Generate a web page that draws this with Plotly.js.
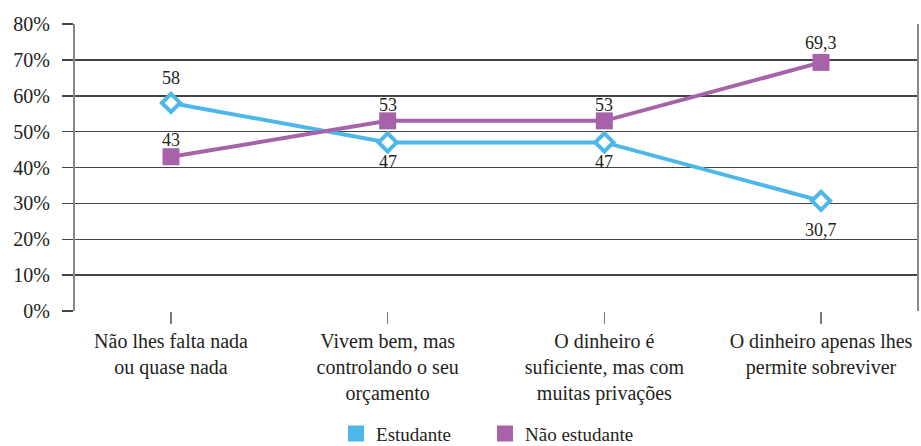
<!DOCTYPE html>
<html>
<head>
<meta charset="utf-8">
<script src="https://cdn.plot.ly/plotly-3.0.1.min.js"></script>
<style>
html,body{margin:0;padding:0;background:#fff;}
#chart{width:921px;height:446px;}
</style>
</head>
<body>
<div id="chart"></div>
<script>
const categories = [
  "Não lhes falta nada<br>ou quase nada",
  "Vivem bem, mas<br>controlando o seu<br>orçamento",
  "O dinheiro é<br>suficiente, mas com<br>muitas privações",
  "O dinheiro apenas lhes<br>permite sobreviver"
];
const estudante = [58, 47, 47, 30.7];
const naoEstudante = [43, 53, 53, 69.3];
const seriesNames = ["Estudante", "Não estudante"];
const yTickVals = [0, 10, 20, 30, 40, 50, 60, 70, 80];
const yTickText = ["0%", "10%", "20%", "30%", "40%", "50%", "60%", "70%", "80%"];

// label offsets (px) – styling only
const estOffsets = [25, -20, -20, -29];
const naoOffsets = [17, 16, 16, 19];

const SERIF = "'Liberation Serif', 'DejaVu Serif', serif";
const blue = "#4DB8E8";
const purple = "#A763A9";
const textColor = "#231F20";
const xIdx = categories.map((_, i) => i);
const fmt = v => String(v).replace(".", ",");

const traces = [
  {
    x: xIdx, y: estudante, mode: "lines+markers", showlegend: false,
    line: {color: blue, width: 4},
    marker: {symbol: "diamond", size: 14, color: "#ffffff", line: {color: blue, width: 4}},
    hoverinfo: "skip"
  },
  {
    x: xIdx, y: naoEstudante, mode: "lines+markers", showlegend: false,
    line: {color: purple, width: 4},
    marker: {symbol: "square", size: 17, color: purple, line: {width: 0}},
    hoverinfo: "skip"
  },
  {
    x: [null], y: [null], mode: "markers", name: seriesNames[0],
    marker: {symbol: "square", size: 16, color: blue}
  },
  {
    x: [null], y: [null], mode: "markers", name: seriesNames[1],
    marker: {symbol: "square", size: 16, color: purple}
  }
];

const annotations = [];
estudante.forEach((v, i) => annotations.push({
  x: i, y: v, xref: "x", yref: "y", text: fmt(v), showarrow: false,
  yshift: estOffsets[i], font: {family: SERIF, size: 18, color: textColor}
}));
naoEstudante.forEach((v, i) => annotations.push({
  x: i, y: v, xref: "x", yref: "y", text: fmt(v), showarrow: false,
  yshift: naoOffsets[i], font: {family: SERIF, size: 18, color: textColor}
}));

const layout = {
  width: 921, height: 446,
  margin: {l: 75, r: 4, t: 24, b: 135, autoexpand: false},
  paper_bgcolor: "#ffffff", plot_bgcolor: "#ffffff",
  font: {family: SERIF, color: textColor, size: 20},
  showlegend: true,
  legend: {
    orientation: "h", x: 0.31, xanchor: "left", y: -0.427, yanchor: "middle",
    entrywidth: 104, entrywidthmode: "pixels",
    font: {family: SERIF, size: 19, color: textColor}, itemclick: false, itemdoubleclick: false
  },
  xaxis: {
    range: [-0.443, 3.443],
    tickvals: xIdx, ticktext: categories,
    ticks: "outside", ticklen: 12, tickwidth: 1.5, tickcolor: "#777777",
    showgrid: false, zeroline: false, showline: false,
    tickfont: {family: SERIF, size: 20, color: textColor},
    automargin: false,
    fixedrange: true
  },
  yaxis: {
    range: [0, 80],
    tickvals: yTickVals, ticktext: yTickText,
    ticks: "outside", ticklen: 11, tickwidth: 1.5, tickcolor: "#444444",
    showgrid: true, gridcolor: "#444444", gridwidth: 1.5,
    zeroline: false,
    showline: true, linecolor: "#888888", linewidth: 2, mirror: true,
    tickfont: {family: SERIF, size: 20, color: textColor},
    ticklabelstandoff: 8,
    automargin: false,
    fixedrange: true
  },
  annotations: annotations
};

Plotly.newPlot("chart", traces, layout, {displayModeBar: false, staticPlot: true});
</script>
</body>
</html>
